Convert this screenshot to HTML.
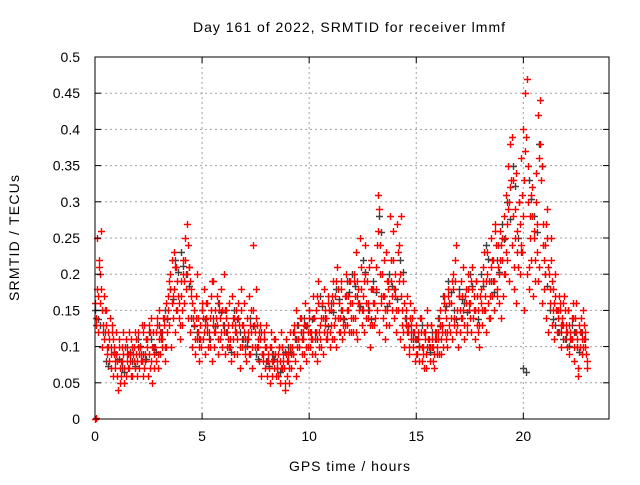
<!DOCTYPE html>
<html><head><meta charset="utf-8"><style>
body{margin:0;background:#fff}
svg text{font-family:"Liberation Sans",sans-serif;font-size:14px;fill:#000}
</style></head><body>
<svg id="chart" width="640" height="480" xmlns="http://www.w3.org/2000/svg">
<rect width="640" height="480" fill="#fff"/>
<g id="grid"></g>
<g id="pts"></g>
<g id="axes"></g>
<text x="193" y="32" textLength="312" lengthAdjust="spacing">Day 161 of 2022, SRMTID for receiver lmmf</text>
<text x="289" y="471" textLength="121" lengthAdjust="spacing">GPS time / hours</text>
<text transform="translate(19,301) rotate(-90)" textLength="126" lengthAdjust="spacing">SRMTID / TECUs</text>
</svg>
<script>
const xTicks=[0,5,10,15,20];
const yTicks=[0,0.05,0.1,0.15,0.2,0.25,0.3,0.35,0.4,0.45,0.5];
const yTickLabels=["0","0.05","0.1","0.15","0.2","0.25","0.3","0.35","0.4","0.45","0.5"];
const redStep=0.1;
const redA=[.16,.25,.22,.18,.17,.15,.12,.14,.13,.10,.09,.11,.08,.12,.10,.09,.07,.11,.10,.09,.12,.10,.08,.13,.11,.09,.14,.12,.10,.13,.15,.12,.14,.10,.17,.20,.22,.18,.21,.16,.19,.22,.25,.27,.21,.18,.15,.17,.14,.13,.16,.18,.14,.12,.17,.19,.15,.13,.16,.18,.20,.15,.13,.11,.17,.14,.12,.16,.18,.13,.10,.14,.17,.12,.15,.18,.11,.13,.09,.12,.10,.08,.12,.09,.11,.07,.10,.12,.08,.11,.09,.12,.10,.13,.15,.11,.14,.12,.16,.13,.14,.12,.17,.15,.19,.13,.16,.18,.14,.17,.15,.19,.17,.21,.16,.18,.14,.20,.17,.19,.16,.20,.23,.18,.21,.17,.24,.19,.15,.22,.18,.21,.31,.24,.20,.17,.23,.19,.22,.26,.20,.27,.24,.17,.19,.15,.13,.16,.14,.12,.13,.11,.14,.10,.12,.15,.11,.13,.10,.12,.12,.15,.13,.17,.14,.18,.16,.20,.22,.15,.17,.19,.15,.18,.20,.16,.21,.17,.19,.15,.18,.21,.17,.23,.19,.25,.22,.27,.24,.26,.25,.28,.31,.35,.38,.33,.29,.26,.30,.36,.40,.45,.35,.28,.32,.25,.30,.42,.38,.27,.24,.29,.20,.22,.18,.17,.15,.16,.14,.17,.13,.15,.12,.16,.14,.11,.13,.12,.15,.10];
const redB=[.14,.12,.16,.10,.12,.09,.08,.07,.06,.08,.06,.05,.08,.07,.06,.09,.08,.06,.07,.08,.07,.09,.06,.08,.10,.07,.05,.09,.08,.07,.09,.11,.08,.12,.13,.10,.14,.12,.15,.11,.13,.16,.18,.14,.12,.10,.09,.11,.08,.10,.11,.09,.13,.10,.08,.12,.14,.09,.11,.10,.09,.12,.10,.08,.11,.13,.09,.07,.10,.12,.08,.11,.09,.07,.12,.10,.08,.06,.09,.07,.06,.05,.08,.07,.06,.09,.05,.07,.04,.06,.05,.07,.09,.08,.10,.07,.11,.09,.08,.10,.10,.09,.11,.08,.12,.10,.09,.13,.11,.12,.11,.13,.10,.14,.12,.11,.13,.15,.12,.14,.12,.14,.11,.15,.13,.12,.16,.14,.10,.13,.13,.15,.12,.16,.14,.11,.15,.13,.17,.14,.12,.15,.11,.13,.10,.12,.09,.11,.10,.08,.09,.08,.10,.07,.09,.11,.08,.10,.07,.09,.09,.11,.10,.12,.10,.13,.11,.14,.12,.10,.12,.14,.11,.13,.15,.12,.14,.11,.13,.10,.13,.15,.12,.16,.14,.17,.15,.18,.16,.14,.17,.20,.22,.19,.24,.18,.16,.21,.20,.23,.15,.20,.18,.22,.17,.19,.23,.21,.16,.18,.14,.12,.16,.13,.11,.15,.12,.10,.13,.11,.10,.09,.11,.08,.12,.07,.10,.09,.11,.08];
const redC=[.13,.17,.20,.15,.11,.13,.10,.09,.11,.07,.08,.10,.06,.09,.11,.07,.09,.10,.08,.11,.10,.08,.12,.09,.11,.13,.08,.10,.12,.09,.12,.10,.13,.16,.15,.18,.17,.21,.19,.14,.17,.20,.22,.24,.19,.16,.13,.14,.12,.11,.14,.13,.16,.11,.15,.13,.12,.11,.14,.15,.12,.14,.11,.10,.14,.12,.11,.13,.15,.11,.09,.12,.13,.10,.13,.14,.10,.11,.08,.10,.08,.07,.10,.08,.09,.06,.08,.10,.07,.09,.08,.10,.09,.11,.13,.10,.12,.11,.13,.12,.12,.11,.14,.12,.16,.11,.14,.15,.12,.15,.13,.16,.14,.18,.14,.15,.12,.17,.15,.16,.14,.17,.19,.16,.18,.15,.20,.16,.13,.18,.16,.18,.26,.20,.17,.15,.19,.16,.19,.22,.17,.23,.20,.15,.16,.13,.12,.14,.12,.11,.11,.10,.12,.09,.11,.13,.10,.11,.09,.11,.11,.13,.12,.15,.12,.16,.14,.18,.19,.13,.15,.17,.13,.16,.18,.14,.18,.15,.17,.13,.16,.19,.15,.20,.17,.22,.19,.24,.21,.22,.22,.25,.27,.30,.33,.28,.25,.23,.27,.31,.33,.39,.30,.25,.28,.22,.27,.36,.33,.24,.20,.25,.18,.19,.16,.15,.14,.15,.13,.15,.12,.13,.11,.14,.12,.10,.12,.11,.13,.09];
const redD=[.18,.21,.26,.13,.15,.10,.11,.12,.09,.12,.04,.07,.10,.05,.08,.12,.06,.09,.12,.06,.09,.13,.07,.11,.06,.12,.10,.07,.14,.11,.11,.14,.10,.14,.19,.16,.23,.15,.17,.13,.15,.19,.20,.21,.17,.14,.11,.20,.10,.15,.12,.16,.10,.14,.19,.10,.17,.15,.12,.13,.15,.10,.16,.13,.09,.15,.14,.10,.13,.16,.11,.09,.15,.24,.10,.13,.12,.09,.11,.13,.09,.10,.06,.11,.08,.10,.07,.09,.05,.08,.07,.09,.12,.06,.11,.14,.09,.13,.10,.15,.11,.14,.09,.17,.10,.14,.12,.11,.16,.10,.17,.11,.19,.12,.19,.13,.17,.13,.19,.12,.19,.12,.16,.25,.15,.19,.14,.21,.18,.16,.14,.24,.29,.17,.22,.13,.18,.28,.15,.18,.15,.19,.28,.12,.14,.17,.10,.13,.15,.09,.12,.14,.08,.12,.07,.10,.13,.08,.12,.10,.14,.09,.16,.11,.17,.12,.19,.13,.24,.17,.14,.21,.17,.12,.16,.19,.15,.19,.12,.17,.15,.23,.19,.14,.21,.19,.26,.17,.20,.24,.20,.23,.29,.32,.39,.21,.34,.30,.24,.28,.37,.47,.21,.31,.26,.34,.19,.44,.35,.22,.27,.21,.25,.15,.20,.12,.17,.13,.16,.12,.15,.11,.14,.10,.16,.06,.14,.10,.12,.07];
const grayStep=0.25;
const gray=[.15,.13,.08,.10,.09,.07,.10,.08,.11,.09,.12,.10,.13,.15,.18,.22,.23,.20,.14,.12,.15,.12,.14,.16,.13,.10,.15,.12,.11,.14,.09,.12,.08,.09,.07,.10,.10,.12,.13,.14,.15,.12,.17,.14,.16,.18,.15,.19,.20,.17,.22,.15,.19,.28,.17,.20,.18,.22,.14,.12,.11,.13,.10,.12,.14,.17,.19,.15,.18,.16,.20,.15,.20,.24,.19,.22,.27,.30,.35,.25,.07,.33,.28,.38,.20,.15,.13,.12,.11,.13,.10,.12];
const extraT=[0,0.05];
const extraV=[0,0.002];

const X0=95,X1=609,Y0=419,Y1=57,XMAX=24,YMAX=0.5;
const sx=t=>X0+(X1-X0)*t/XMAX;
const sy=v=>Y0-(Y0-Y1)*v/YMAX;
const NS="http://www.w3.org/2000/svg";
function mk(tag,attrs,parent){const e=document.createElementNS(NS,tag);for(const k in attrs)e.setAttribute(k,attrs[k]);parent.appendChild(e);return e;}
const grid=document.getElementById('grid'),axes=document.getElementById('axes'),pts=document.getElementById('pts');
xTicks.forEach(t=>{
  const x=sx(t);
  if(t>0){const g=mk('line',{x1:x,x2:x,y1:Y0,y2:Y1,stroke:'#a0a0a0','stroke-dasharray':'2,3'},grid);
  
  }
  mk('line',{x1:x,x2:x,y1:Y0,y2:Y0-6,stroke:'#000'},axes);
  mk('line',{x1:x,x2:x,y1:Y1,y2:Y1+6,stroke:'#000'},axes);
  const l=mk('text',{x:x,y:Y0+22,'text-anchor':'middle'},axes);l.textContent=t;
  
  
});
yTicks.forEach((v,i)=>{
  const y=sy(v);
  if(v>0&&v<YMAX){const g=mk('line',{x1:X0,x2:X1,y1:y,y2:y,stroke:'#a0a0a0','stroke-dasharray':'2,3'},grid);
  
  }
  mk('line',{x1:X0,x2:X0+6,y1:y,y2:y,stroke:'#000'},axes);
  mk('line',{x1:X1,x2:X1-6,y1:y,y2:y,stroke:'#000'},axes);
  const l=mk('text',{x:X0-15,y:y+5,'text-anchor':'end'},axes);l.textContent=yTickLabels[i];
  
  
});
mk('rect',{x:X0,y:Y1,width:X1-X0,height:Y0-Y1,fill:'none',stroke:'#000'},axes);
function plus(t,v,col){
  const x=Math.round(sx(t))+0.5,y=Math.round(sy(v))+0.5;
  const p=mk('path',{d:`M${x-3.5} ${y}H${x+3.5}M${x} ${y-3.5}V${y+3.5}`,stroke:col,'stroke-width':1.4,fill:'none'},pts);
  
  
}
gray.forEach((v,i)=>plus(i*grayStep,v,'#404040'));
gray.forEach((v,i)=>plus(i*grayStep+0.12,v*0.92,'#404040'));
redA.forEach((v,i)=>plus(i*redStep,v,'#ff0000'));
redB.forEach((v,i)=>plus(i*redStep+0.05,v,'#ff0000'));
redC.forEach((v,i)=>plus(i*redStep+0.025,v,'#ff0000'));
redD.forEach((v,i)=>plus(i*redStep+0.075,v,'#ff0000'));
extraT.forEach((t,i)=>plus(t,extraV[i],'#ff0000'));
</script>
</body></html>
